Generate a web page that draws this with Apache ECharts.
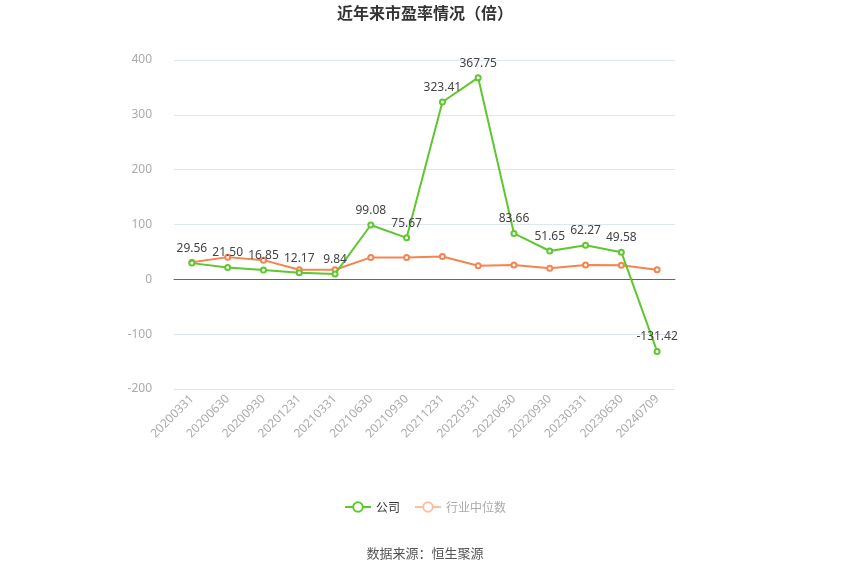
<!DOCTYPE html>
<html><head><meta charset="utf-8">
<script src="https://cdn.jsdelivr.net/npm/echarts@6/dist/echarts.min.js"></script>
<style>html,body{margin:0;padding:0;background:#fff}#c{width:850px;height:575px}</style>
</head><body><div id="c"></div>
<script>
const categories = ['20200331','20200630','20200930','20201231','20210331','20210630','20210930','20211231','20220331','20220630','20220930','20230331','20230630','20240709'];
const companyPE = [29.56,21.50,16.85,12.17,9.84,99.08,75.67,323.41,367.75,83.66,51.65,62.27,49.58,-131.42];
const industryPE = [31,40.5,35,17.5,17.5,40,40,41.8,24.8,26,20,26,25.5,17.5];
const yTicks = {min:-200,max:400,interval:100};

const chart = echarts.init(document.getElementById('c'));
chart.setOption({
  animation:false,
  title:{text:'近年来市盈率情况（倍）',left:'center',top:0,textStyle:{fontSize:16,fontWeight:'bold',color:'#333',fontFamily:'Noto Sans CJK SC'}},
  grid:{left:174,right:175,top:60,bottom:186},
  legend:{bottom:57,left:'center',itemWidth:26,itemHeight:12,itemGap:14,
    textStyle:{fontSize:12,color:'#333',fontFamily:'Noto Sans CJK SC'},
    data:[{name:'公司'},{name:'行业中位数',itemStyle:{color:'#fbbfa3',borderColor:'#fbbfa3'},lineStyle:{color:'#fbbfa3'},textStyle:{color:'#aaa'}}]},
  graphic:[{type:'text',left:'center',top:547,style:{text:'数据来源：恒生聚源',fontSize:13,fill:'#555',fontFamily:'Noto Sans CJK SC'}}],
  xAxis:{type:'category',data:categories,boundaryGap:true,
    axisLine:{lineStyle:{color:'#666'}},axisTick:{alignWithLabel:true,lineStyle:{color:'#999'}},
    axisLabel:{rotate:45,color:'#aaa',fontSize:12,interval:0,fontFamily:'Noto Sans'}},
  yAxis:{type:'value',min:yTicks.min,max:yTicks.max,interval:yTicks.interval,
    axisLine:{show:false},axisTick:{show:false},
    axisLabel:{color:'#aaa',fontSize:12,margin:22,fontFamily:'Noto Sans'},
    splitLine:{lineStyle:{color:'#e0e6f1'}}},
  series:[
    {name:'公司',type:'line',data:companyPE,symbol:'emptyCircle',symbolSize:5,
      itemStyle:{color:'#5ec72e'},lineStyle:{color:'#5ec72e',width:2},
      label:{show:true,position:'top',color:'#444',fontSize:12,fontFamily:'Noto Sans',formatter:p=>p.value.toFixed(2)},z:3},
    {name:'行业中位数',type:'line',data:industryPE,symbol:'emptyCircle',symbolSize:5,
      itemStyle:{color:'#f5844e'},lineStyle:{color:'#f5844e',width:2},z:2}
  ]
});
</script></body></html>
